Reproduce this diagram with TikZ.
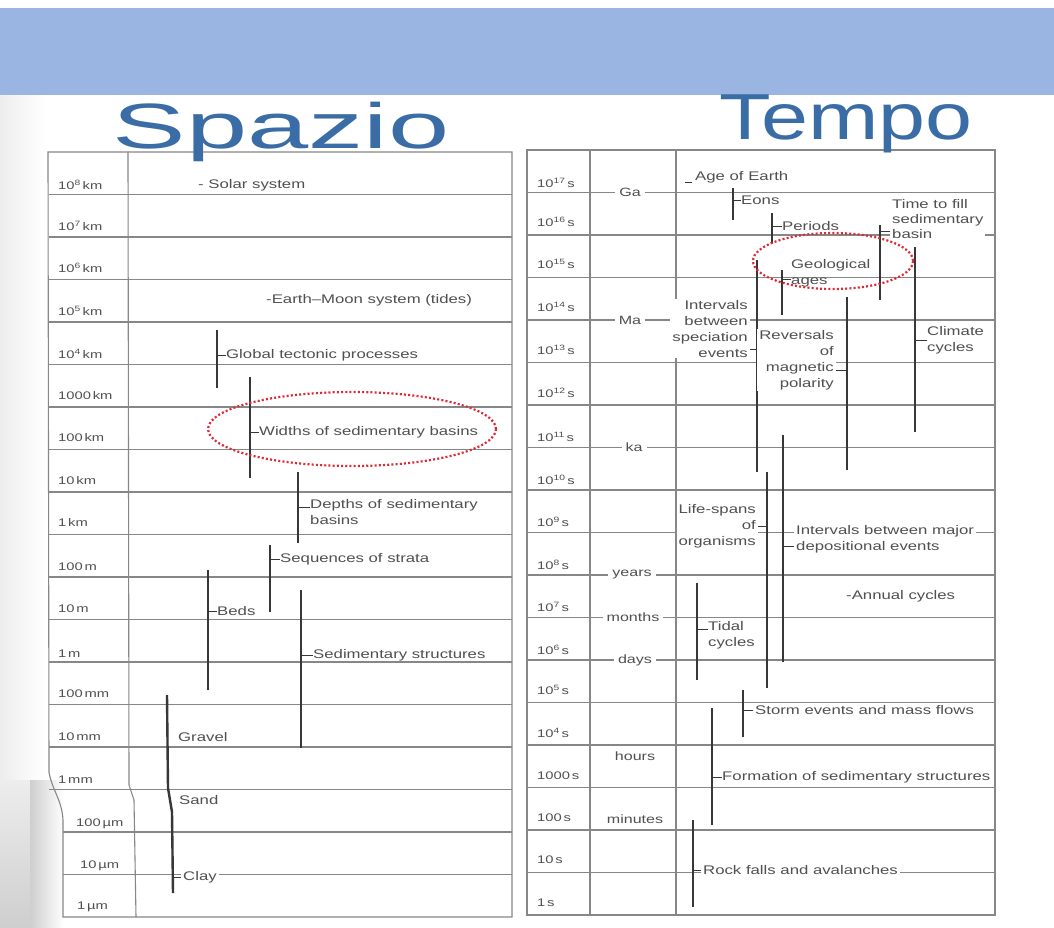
\documentclass[tikz,border=0pt]{standalone}
\usepackage{fontspec}
\usepackage{graphicx}
\setmainfont{Liberation Sans}
\newfontfamily\labfont{Liberation Sans}[FakeStretch=1.34]
\usetikzlibrary{calc}
\definecolor{bandblue}{RGB}{155,181,227}
\definecolor{titleblue}{RGB}{58,108,165}
\definecolor{txt}{RGB}{80,80,80}
\definecolor{gridc}{RGB}{135,135,135}
\definecolor{barc}{RGB}{55,55,55}
\definecolor{redc}{RGB}{222,40,52}
\begin{document}
\begin{tikzpicture}[x=1pt,y=-1pt,
  gridline/.style={draw=gridc,line width=1.1pt},
  bar/.style={draw=barc,line width=2.4pt},
  tick/.style={draw=barc,line width=0.9pt},
  lbl/.style={inner sep=0pt,text=txt,font=\labfont\fontsize{12.5}{16}\selectfont},
  wlbl/.style={lbl,fill=white,inner xsep=2pt,inner ysep=1pt},
  rowlbl/.style={inner sep=0pt,text=txt,font=\labfont\fontsize{11}{12}\selectfont,anchor=west},
  unitlbl/.style={fill=white,inner xsep=4pt,inner ysep=1pt,text=txt,font=\labfont\fontsize{12}{12}\selectfont},
  redring/.style={draw=redc,line width=2.2pt,dash pattern=on 2pt off 2.2pt},
  titletext/.style={anchor=base,text=titleblue,inner sep=0pt}
]
\useasboundingbox (0,0) rectangle (1054,927);
% background
\fill[white] (0,0) rectangle (1054,927);
\fill[bandblue] (0,8) rectangle (1054,95);
\shade[left color=gray!14,right color=white] (0,95) rectangle (46,780);
\shade[top color=gray!14,bottom color=gray!38] (0,780) rectangle (30,927);
\shade[left color=gray!38,right color=white] (30,780) rectangle (64,927);

% ================= LEFT TABLE (Spazio) =================
\draw[gridline] (48,152) -- (512,152) -- (512,917) -- (63,917) -- (63,820)
   .. controls (62,800) and (52,790) .. (49,772) -- cycle;
\draw[gridline] (128,152) -- (129,785) -- (134,800) -- (136,917);
\foreach \i in {1,...,15} {\draw[gridline] (49,152+42.5*\i) -- (512,152+42.5*\i);}
\foreach \i in {16,17} {\draw[gridline] (63,152+42.5*\i) -- (512,152+42.5*\i);}

\node[rowlbl] (l1) at (58,185) {10\textsuperscript{8}\,km};
\node[rowlbl] (l2) at (58,226) {10\textsuperscript{7}\,km};
\node[rowlbl] (l3) at (58,268) {10\textsuperscript{6}\,km};
\node[rowlbl] (l4) at (58,311) {10\textsuperscript{5}\,km};
\node[rowlbl] (l5) at (58,354) {10\textsuperscript{4}\,km};
\node[rowlbl] (l6) at (58,396) {1000\,km};
\node[rowlbl] (l7) at (58,438) {100\,km};
\node[rowlbl] (l8) at (58,481) {10\,km};
\node[rowlbl] (l9) at (58,523) {1\,km};
\node[rowlbl] (l10) at (58,567) {100\,m};
\node[rowlbl] (l11) at (58,609) {10\,m};
\node[rowlbl] (l12) at (58,654) {1\,m};
\node[rowlbl] (l13) at (58,694) {100\,mm};
\node[rowlbl] (l14) at (58,737) {10\,mm};
\node[rowlbl] (l15) at (58,780) {1\,mm};
\node[rowlbl] (l16) at (76,824) {100\,µm};
\node[rowlbl] (l17) at (80,866) {10\,µm};
\node[rowlbl] (l18) at (77,907) {1\,µm};

\node[lbl,anchor=west] (solar) at (198,185) {- Solar system};
\node[lbl,anchor=west] (earth) at (266,300) {-Earth–Moon system (tides)};

\coordinate (gtA) at (217,330); \coordinate (gtB) at (217,388);
\draw[bar] (gtA) -- (gtB);
\node[lbl,anchor=west] (gt) at (226,355) {Global tectonic processes};
\draw[tick] (gt.west) -- (gt.west -| gtA);

\coordinate (wdA) at (250,377); \coordinate (wdB) at (250,478);
\draw[bar] (wdA) -- (wdB);
\node[lbl,anchor=west] (wd) at (259,432) {Widths of sedimentary basins};
\draw[tick] (wd.west) -- (wd.west -| wdA);

\coordinate (dpA) at (298,472); \coordinate (dpB) at (298,543);
\draw[bar] (dpA) -- (dpB);
\node[lbl,anchor=north west,align=left] (dp) at (310,499) {Depths of sedimentary\\basins};
\draw[tick] ([yshift=-8pt]dp.north west) -- ([yshift=-8pt]dp.north west -| dpA);

\coordinate (sqA) at (270,545); \coordinate (sqB) at (270,612);
\draw[bar] (sqA) -- (sqB);
\node[lbl,anchor=west] (sq) at (280,559) {Sequences of strata};
\draw[tick] (sq.west) -- (sq.west -| sqA);

\coordinate (bdA) at (208,570); \coordinate (bdB) at (208,690);
\draw[bar] (bdA) -- (bdB);
\node[lbl,anchor=west] (bd) at (217,611) {Beds};
\draw[tick] (bd.west) -- (bd.west -| bdA);

\coordinate (ssA) at (301,590); \coordinate (ssB) at (301,748);
\draw[bar] (ssA) -- (ssB);
\node[lbl,anchor=west] (ss) at (313,655) {Sedimentary structures};
\draw[tick] (ss.west) -- (ss.west -| ssA);

\coordinate (gsA) at (167,695); \coordinate (gsM) at (168,788); \coordinate (gsB) at (173,893);
\draw[bar] (gsA) -- (gsM) -- (172,812) -- (gsB);
\node[lbl,anchor=west] (gravel) at (178,737) {Gravel};
\node[lbl,anchor=west] (sand) at (179,800) {Sand};
\node[wlbl,anchor=west] (clay) at (181,877) {Clay};
\draw[tick] (clay.west) -- (clay.west -| gsB);

\draw[redring] (352,429) ellipse [x radius=144, y radius=37];

% ================= RIGHT TABLE (Tempo) =================
\draw[gridline] (527,150) rectangle (995,915);
\draw[gridline] (590,150) -- (590,915);
\draw[gridline] (676,150) -- (676,915);
\foreach \i in {1,...,17} {\draw[gridline] (527,150+42.5*\i) -- (995,150+42.5*\i);}

\node[rowlbl] (r1) at (537,183) {10\textsuperscript{17}\,s};
\node[rowlbl] (r2) at (537,222) {10\textsuperscript{16}\,s};
\node[rowlbl] (r3) at (537,264) {10\textsuperscript{15}\,s};
\node[rowlbl] (r4) at (537,307) {10\textsuperscript{14}\,s};
\node[rowlbl] (r5) at (537,350) {10\textsuperscript{13}\,s};
\node[rowlbl] (r6) at (537,393) {10\textsuperscript{12}\,s};
\node[rowlbl] (r7) at (537,437) {10\textsuperscript{11}\,s};
\node[rowlbl] (r8) at (537,480) {10\textsuperscript{10}\,s};
\node[rowlbl] (r9) at (537,522) {10\textsuperscript{9}\,s};
\node[rowlbl] (r10) at (537,565) {10\textsuperscript{8}\,s};
\node[rowlbl] (r11) at (537,607) {10\textsuperscript{7}\,s};
\node[rowlbl] (r12) at (537,650) {10\textsuperscript{6}\,s};
\node[rowlbl] (r13) at (537,690) {10\textsuperscript{5}\,s};
\node[rowlbl] (r14) at (537,733) {10\textsuperscript{4}\,s};
\node[rowlbl] (r15) at (537,776) {1000\,s};
\node[rowlbl] (r16) at (537,818) {100\,s};
\node[rowlbl] (r17) at (537,860) {10\,s};
\node[rowlbl] (r18) at (537,903) {1\,s};

\node[unitlbl] (ga) at (630,192.5) {Ga};
\node[unitlbl] (ma) at (630,320) {Ma};
\node[unitlbl] (ka) at (634,447.5) {ka};
\node[unitlbl] (yr) at (632,575) {years};
\node[unitlbl] (mo) at (633,617.5) {months};
\node[unitlbl] (dy) at (635,660) {days};
\node[unitlbl] (hr) at (635,756) {hours};
\node[unitlbl] (mn) at (635,819) {minutes};

\node[lbl,anchor=west] (age) at (695,177) {Age of Earth};
\draw[tick] ([xshift=-3pt,yshift=-5pt]age.west) -- ++(-7,0);

\coordinate (eoA) at (733,188); \coordinate (eoB) at (733,220);
\draw[bar] (eoA) -- (eoB);
\node[lbl,anchor=west] (eo) at (741,200) {Eons};
\draw[tick] (eo.west) -- (eo.west -| eoA);

\coordinate (peA) at (772,213); \coordinate (peB) at (772,243);
\draw[bar] (peA) -- (peB);
\node[lbl,anchor=west] (pe) at (782,226) {Periods};
\draw[tick] (pe.west) -- (pe.west -| peA);

\coordinate (gaA) at (782,270); \coordinate (gaB) at (782,315);
\draw[bar] (gaA) -- (gaB);
\node[lbl,anchor=north west,align=left] (geo) at (791,259) {Geological\\ages};
\draw[tick] ([yshift=8pt]geo.south west) -- ([yshift=8pt]geo.south west -| gaA);

\coordinate (tfA) at (880,225); \coordinate (tfB) at (880,300);
\draw[bar] (tfA) -- (tfB);
\node[wlbl,anchor=north west,align=left,font=\labfont\fontsize{12.5}{15}\selectfont] (tf) at (890,198) {Time to fill\\sedimentary\\basin};
\draw[tick] ([yshift=8pt]tf.south west) -- ([yshift=8pt]tf.south west -| tfA);

\coordinate (clA) at (915,247); \coordinate (clB) at (915,432);
\draw[bar] (clA) -- (clB);
\node[lbl,anchor=west,align=left] (cl) at (927,340) {Climate\\cycles};
\draw[tick] (cl.west) -- (cl.west -| clA);

\coordinate (isA) at (757,260); \coordinate (isB) at (757,472);
\draw[bar] (isA) -- (isB);
\node[wlbl,anchor=north east,align=right] (is) at (750,299) {Intervals\\between\\speciation\\events};
\draw[tick] ([yshift=9pt]is.south east) -- ([yshift=9pt]is.south east -| isA);

\coordinate (rvA) at (847,297); \coordinate (rvB) at (847,470);
\draw[bar] (rvA) -- (rvB);
\node[wlbl,anchor=north east,align=right] (rv) at (836,329) {Reversals\\of\\magnetic\\polarity};
\draw[tick] ([yshift=-41pt]rv.north east) -- ([yshift=-41pt]rv.north east -| rvA);

\coordinate (lsA) at (767,472); \coordinate (lsB) at (767,688);
\draw[bar] (lsA) -- (lsB);
\node[wlbl,anchor=north east,align=right] (ls) at (758,503) {Life-spans\\of\\organisms};
\draw[tick] (ls.east) -- (ls.east -| lsA);

\coordinate (imA) at (783,435); \coordinate (imB) at (783,662);
\draw[bar] (imA) -- (imB);
\node[wlbl,anchor=north west,align=left] (im) at (794,524) {Intervals between major\\depositional events};
\draw[tick] ([yshift=8pt]im.south west) -- ([yshift=8pt]im.south west -| imA);

\node[lbl,anchor=west] (an) at (846,596) {-Annual cycles};

\coordinate (tdA) at (697,583); \coordinate (tdB) at (697,680);
\draw[bar] (tdA) -- (tdB);
\node[lbl,anchor=north west,align=left] (td) at (708,621) {Tidal\\cycles};
\draw[tick] ([yshift=-8pt]td.north west) -- ([yshift=-8pt]td.north west -| tdA);

\coordinate (stA) at (743,690); \coordinate (stB) at (743,737);
\draw[bar] (stA) -- (stB);
\node[wlbl,anchor=west] (st) at (753,710) {Storm events and mass flows};
\draw[tick] (st.west) -- (st.west -| stA);

\coordinate (fmA) at (712,708); \coordinate (fmB) at (712,825);
\draw[bar] (fmA) -- (fmB);
\node[lbl,anchor=west] (fm) at (722,777) {Formation of sedimentary structures};
\draw[tick] (fm.west) -- (fm.west -| fmA);

\coordinate (rfA) at (693,820); \coordinate (rfB) at (693,907);
\draw[bar] (rfA) -- (rfB);
\node[wlbl,anchor=west] (rf) at (701,870) {Rock falls and avalanches};
\draw[tick] (rf.west) -- (rf.west -| rfA);

\draw[redring] (833,261) ellipse [x radius=80, y radius=28];

% ================= TITLES =================
\node[titletext] (spazio) at (281,148) {\scalebox{1.72}[1]{\fontsize{64}{64}\selectfont Spazio}};
\node[titletext] (tempo) at (846,139) {\scalebox{1.3}[1]{\fontsize{65}{65}\selectfont Tempo}};
\end{tikzpicture}
\end{document}
